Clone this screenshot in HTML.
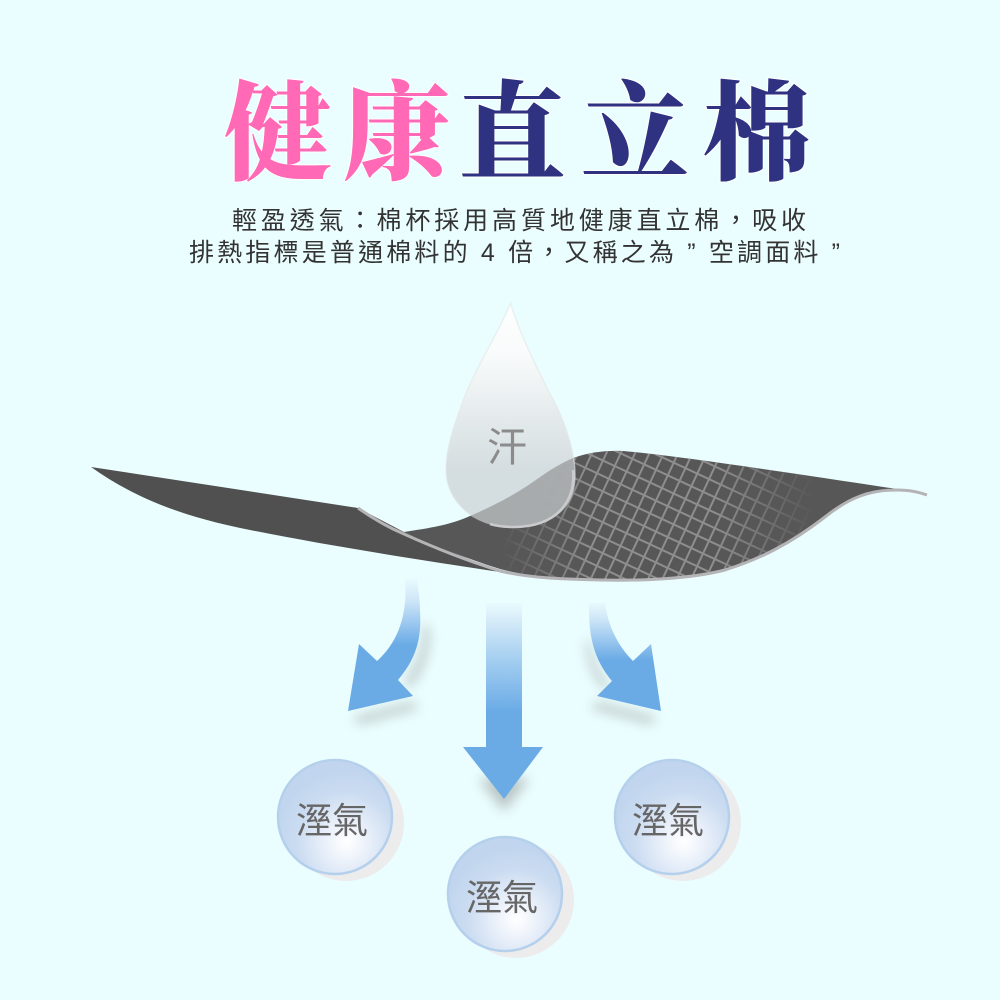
<!DOCTYPE html>
<html lang="zh-Hant"><head><meta charset="utf-8"><title>健康直立棉</title>
<style>html,body{margin:0;padding:0;background:#ebfeff}svg{display:block}</style></head>
<body>
<svg width="1000" height="1000" viewBox="0 0 1000 1000" xmlns="http://www.w3.org/2000/svg">
<defs>
<linearGradient id="drop" x1="0" y1="303" x2="0" y2="470" gradientUnits="userSpaceOnUse">
<stop offset="0" stop-color="#ffffff"/><stop offset=".3" stop-color="#fafbfb"/><stop offset="1" stop-color="#d2dadd"/></linearGradient>
<linearGradient id="s1" x1="0" y1="600" x2="0" y2="712" gradientUnits="userSpaceOnUse">
<stop offset="0" stop-color="#ebfeff"/><stop offset=".2" stop-color="#d4eaf8"/><stop offset=".55" stop-color="#a2cdf0"/><stop offset="1" stop-color="#6aabe6"/></linearGradient>
<linearGradient id="s2" x1="0" y1="576" x2="0" y2="645" gradientUnits="userSpaceOnUse">
<stop offset="0" stop-color="#ebfeff"/><stop offset=".35" stop-color="#cfe6f8"/><stop offset="1" stop-color="#6aabe6"/></linearGradient>
<linearGradient id="s3" x1="0" y1="600" x2="0" y2="660" gradientUnits="userSpaceOnUse">
<stop offset="0" stop-color="#ebfeff"/><stop offset=".3" stop-color="#d0e7f8"/><stop offset="1" stop-color="#6aabe6"/></linearGradient>
<radialGradient id="ball" cx="0.6" cy="0.72" r="0.62">
<stop offset="0" stop-color="#ffffff"/><stop offset=".25" stop-color="#eef3fb"/><stop offset=".7" stop-color="#cbdcf1"/><stop offset="1" stop-color="#c1d6ee"/></radialGradient>
<pattern id="net" width="13" height="14" patternUnits="userSpaceOnUse" patternTransform="rotate(25 600 500)">
<rect x="0" y="0" width="2" height="14" fill="#8e8e8e"/><rect x="0" y="0" width="13" height="2" fill="#8e8e8e"/></pattern>
<linearGradient id="fade" x1="500" y1="0" x2="815" y2="0" gradientUnits="userSpaceOnUse">
<stop offset="0" stop-color="#000"/><stop offset=".28" stop-color="#fff"/><stop offset=".68" stop-color="#fff"/><stop offset="1" stop-color="#000"/></linearGradient>
<mask id="m" maskUnits="userSpaceOnUse" x="380" y="430" width="560" height="170"><rect x="380" y="430" width="560" height="170" fill="url(#fade)"/></mask>
<clipPath id="cl"><path d="M404,532 C430,528 450,525 470,516 C495,505 515,495 540,477 C565,459 585,450 623,451 C680,456 790,473 897,489 C870,490 850,497 825,517 C790,544 760,559 725,570 C690,579 640,581 600,580 C560,579 530,577 500,569 C465,558 435,546 404,532 Z"/></clipPath>
<filter id="b" x="-40%" y="-40%" width="180%" height="180%"><feGaussianBlur stdDeviation="6"/></filter>
</defs>
<rect width="1000" height="1000" fill="#ebfeff"/>

<g font-family="'Liberation Serif','Noto Serif CJK TC','Noto Serif CJK SC',serif" font-weight="900" font-size="108" stroke="#ffffff" stroke-width="2" paint-order="stroke">
<text x="224" y="171" fill="#ff69b5">健</text>
<text x="343" y="171" fill="#ff69b5">康</text>
<text x="458" y="171" fill="#2e3280">直</text>
<text x="581" y="171" fill="#2e3280">立</text>
<text x="703" y="171" fill="#2e3280">棉</text>
</g>
<g font-family="'Liberation Sans','Noto Sans CJK TC',sans-serif" font-size="25" fill="#333">
<text x="232" y="229" textLength="574" lengthAdjust="spacing">輕盈透氣&#xFF1A;棉杯採用高質地健康直立棉&#xFF0C;吸收</text>
<text x="189" y="261" textLength="651" lengthAdjust="spacing">排熱指標是普通棉料的 4 倍&#xFF0C;又稱之為 &#x201D; 空調面料 &#x201D;</text>
</g>

<!-- arrow shadows -->
<g fill="#777" opacity=".42" filter="url(#b)">
<path d="M352,718 L412,702 L420,708 L360,724 Z"/>
<path d="M658,718 L598,702 L590,708 L650,724 Z"/>
<path d="M478,778 L530,778 L504,812 Z"/>
<path d="M422,625 C426,645 416,665 404,684 L410,688 C428,665 432,640 428,625 Z"/>
<path d="M590,640 C592,660 600,675 610,686 L604,690 C592,675 586,660 586,640 Z"/>
</g>

<!-- arrows -->
<path d="M405,578 C408,615 398,642 377,661 L359,644 L348,711 L413,696 L398,680 C415,660 422,640 420,610 C420,598 418,588 417,578 Z" fill="url(#s2)"/>
<path d="M486,603 H522 V747 H543 L504,799 L463,747 H486 Z" fill="url(#s1)"/>
<path d="M589,603 C588,640 596,662 612,681 L597,696 L661,711 L651,644 L633,661 C617,645 608,625 605,603 Z" fill="url(#s3)"/>

<!-- left sheet -->
<path d="M91,467 L358,508 L404,532 L500,572 C420,560 330,546 250,530 C180,516 135,498 91,467 Z" fill="#505050"/>
<!-- right sheet -->
<path d="M404,532 C430,528 450,525 470,516 C495,505 515,495 540,477 C565,459 585,450 623,451 C680,456 790,473 897,489 C870,490 850,497 825,517 C790,544 760,559 725,570 C690,579 640,581 600,580 C560,579 530,577 500,569 C465,558 435,546 404,532 Z" fill="#575757"/>
<g clip-path="url(#cl)"><rect x="380" y="430" width="560" height="170" fill="url(#net)" mask="url(#m)"/></g>
<!-- edge -->
<path d="M358,508 C375,520 390,528 404,534 C435,548 465,560 500,571 C530,578 560,579 600,580 C640,581 690,579 725,570 C760,559 790,544 825,517 C850,497 870,490 897,490 C910,490 918,492 927,495" fill="none" stroke="#b4b4b6" stroke-width="3"/>

<!-- drop -->
<path d="M510.5,303 C520,335 540,375 556,405 C568,430 575,455 575,475 C575,505 555,527 513,527 C472,527 446,500 446,470 C446,445 456,420 466,393 C480,360 500,330 510.5,303 Z" fill="url(#drop)" fill-opacity=".92" stroke="#e3e6e8" stroke-opacity=".6" stroke-width="1.5"/>
<path d="M404,532 C430,528 450,525 470,516 C495,505 515,495 540,477 C552,469 562,463 573,458 C576,475 575,490 568,503 C558,520 540,527 513,527 C495,527 482,523 470,516 Z" fill="#8c8c8c" fill-opacity=".55" clip-path="url(#cl)"/>
<path d="M573,470 C576,500 558,527 513,527 C505,527 497,526 490,524" fill="none" stroke="#c9cbcc" stroke-width="2.5"/>
<text x="487" y="461" font-family="'Liberation Sans','Noto Sans CJK TC',sans-serif" font-size="40" fill="#8b8b8b">汗</text>

<!-- circles -->
<g font-family="'Liberation Sans','Noto Sans CJK TC',sans-serif" font-size="36" fill="#666">
<circle cx="346" cy="823" r="58" fill="#ececec"/>
<circle cx="335" cy="817" r="57" fill="url(#ball)" stroke="#b5d0ec" stroke-width="2.5"/>
<text x="296" y="833">溼氣</text>
<circle cx="683" cy="823" r="58" fill="#ececec"/>
<circle cx="672" cy="817" r="57" fill="url(#ball)" stroke="#b5d0ec" stroke-width="2.5"/>
<text x="632" y="833">溼氣</text>
<circle cx="516" cy="900" r="58" fill="#ececec"/>
<circle cx="505" cy="894" r="57" fill="url(#ball)" stroke="#b5d0ec" stroke-width="2.5"/>
<text x="466" y="910">溼氣</text>
</g>
</svg>
</body></html>
